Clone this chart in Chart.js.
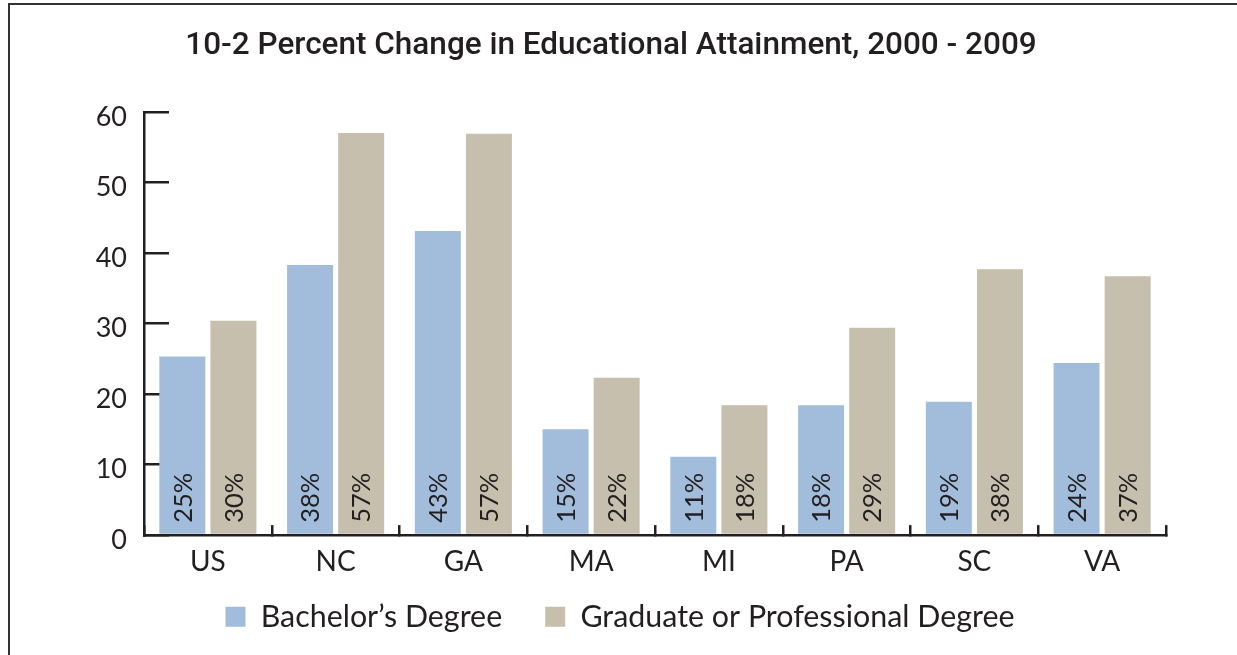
<!DOCTYPE html>
<html><head><meta charset="utf-8">
<script src="https://cdn.jsdelivr.net/npm/chart.js@4.4.0/dist/chart.umd.min.js"></script>
<style>
html,body{margin:0;padding:0;background:#fff;}
#wrap{position:relative;width:1237px;height:655px;overflow:hidden;background:#fff;}
#frame{position:absolute;left:8px;top:3px;width:1300px;height:700px;border-left:2.5px solid #333;border-top:2.5px solid #333;box-sizing:border-box;pointer-events:none;}
canvas{position:absolute;left:0;top:0;}
</style></head>
<body><div id="wrap"><canvas id="c" width="1237" height="655"></canvas><div id="frame"></div></div>
<script>
const categories = ['US','NC','GA','MA','MI','PA','SC','VA'];
const bachelorValues = [25.3, 38.3, 43.1, 15.0, 11.1, 18.4, 18.9, 24.4];
const graduateValues = [30.4, 57.0, 56.9, 22.3, 18.4, 29.4, 37.7, 36.7];
const bachelorLabels = ['25%','38%','43%','15%','11%','18%','19%','24%'];
const graduateLabels = ['30%','57%','57%','22%','18%','29%','38%','37%'];
const seriesNames = ['Bachelor\u2019s Degree', 'Graduate or Professional Degree'];
const titleText = '10-2 Percent Change in Educational Attainment, 2000 - 2009';

const INK = '#231f20';

const barLabels = {
  id: 'barLabels',
  afterDatasetsDraw(chart) {
    const ctx = chart.ctx;
    const sets = [bachelorLabels, graduateLabels];
    chart.data.datasets.forEach((ds, di) => {
      const meta = chart.getDatasetMeta(di);
      meta.data.forEach((bar, i) => {
        ctx.save();
        ctx.translate(bar.x, bar.base - 11);
        ctx.rotate(-Math.PI / 2);
        ctx.font = '25.5px Lato';
        ctx.fillStyle = INK;
        ctx.textAlign = 'left';
        ctx.textBaseline = 'middle';
        ctx.fillText(sets[di][i], 0, 1);
        ctx.restore();
      });
    });
  }
};

const legendShift = {
  id: 'legendShift',
  afterLayout(chart) {
    if (chart.legend) { chart.legend.left += 9; chart.legend.right += 9; }
  }
};

new Chart(document.getElementById('c'), {
  type: 'bar',
  data: {
    labels: categories,
    datasets: [
      { label: seriesNames[0], data: bachelorValues, backgroundColor: '#a2bddb', borderWidth: 0 },
      { label: seriesNames[1], data: graduateValues, backgroundColor: '#c7bfad', borderWidth: 0 }
    ]
  },
  options: {
    responsive: false,
    animation: false,
    devicePixelRatio: 1,
    layout: { padding: { left: 56, right: 71, top: 0, bottom: 13 } },
    plugins: {
      title: {
        display: true,
        text: titleText,
        color: INK,
        font: { family: 'Roboto', size: 31.5, weight: '500' },
        padding: { top: 27, bottom: 47 }
      },
      legend: {
        position: 'bottom',
        labels: {
          boxWidth: 20, boxHeight: 20, padding: 43,
          color: INK,
          font: { family: 'Lato', size: 30.4 }
        }
      },
      tooltip: { enabled: false }
    },
    scales: {
      x: {
        grid: { drawOnChartArea: false, tickLength: -10, color: INK, lineWidth: 2.5, offset: true },
        border: { color: INK, width: 2.5 },
        ticks: { font: { family: 'Lato', size: 28 }, color: INK, padding: -44, mirror: true },
        afterFit: s => { s.height = 23.5; }
      },
      y: {
        min: 0, max: 60,
        grid: { drawOnChartArea: false, tickLength: -25, color: INK, lineWidth: 2.5 },
        border: { color: INK, width: 2.5 },
        ticks: { stepSize: 10, font: { family: 'Lato', size: 27 }, color: INK, padding: 42, labelOffset: 5 },
        afterFit: s => { s.width = 88; }
      }
    }
  },
  plugins: [barLabels, legendShift]
});
</script>
</body></html>
